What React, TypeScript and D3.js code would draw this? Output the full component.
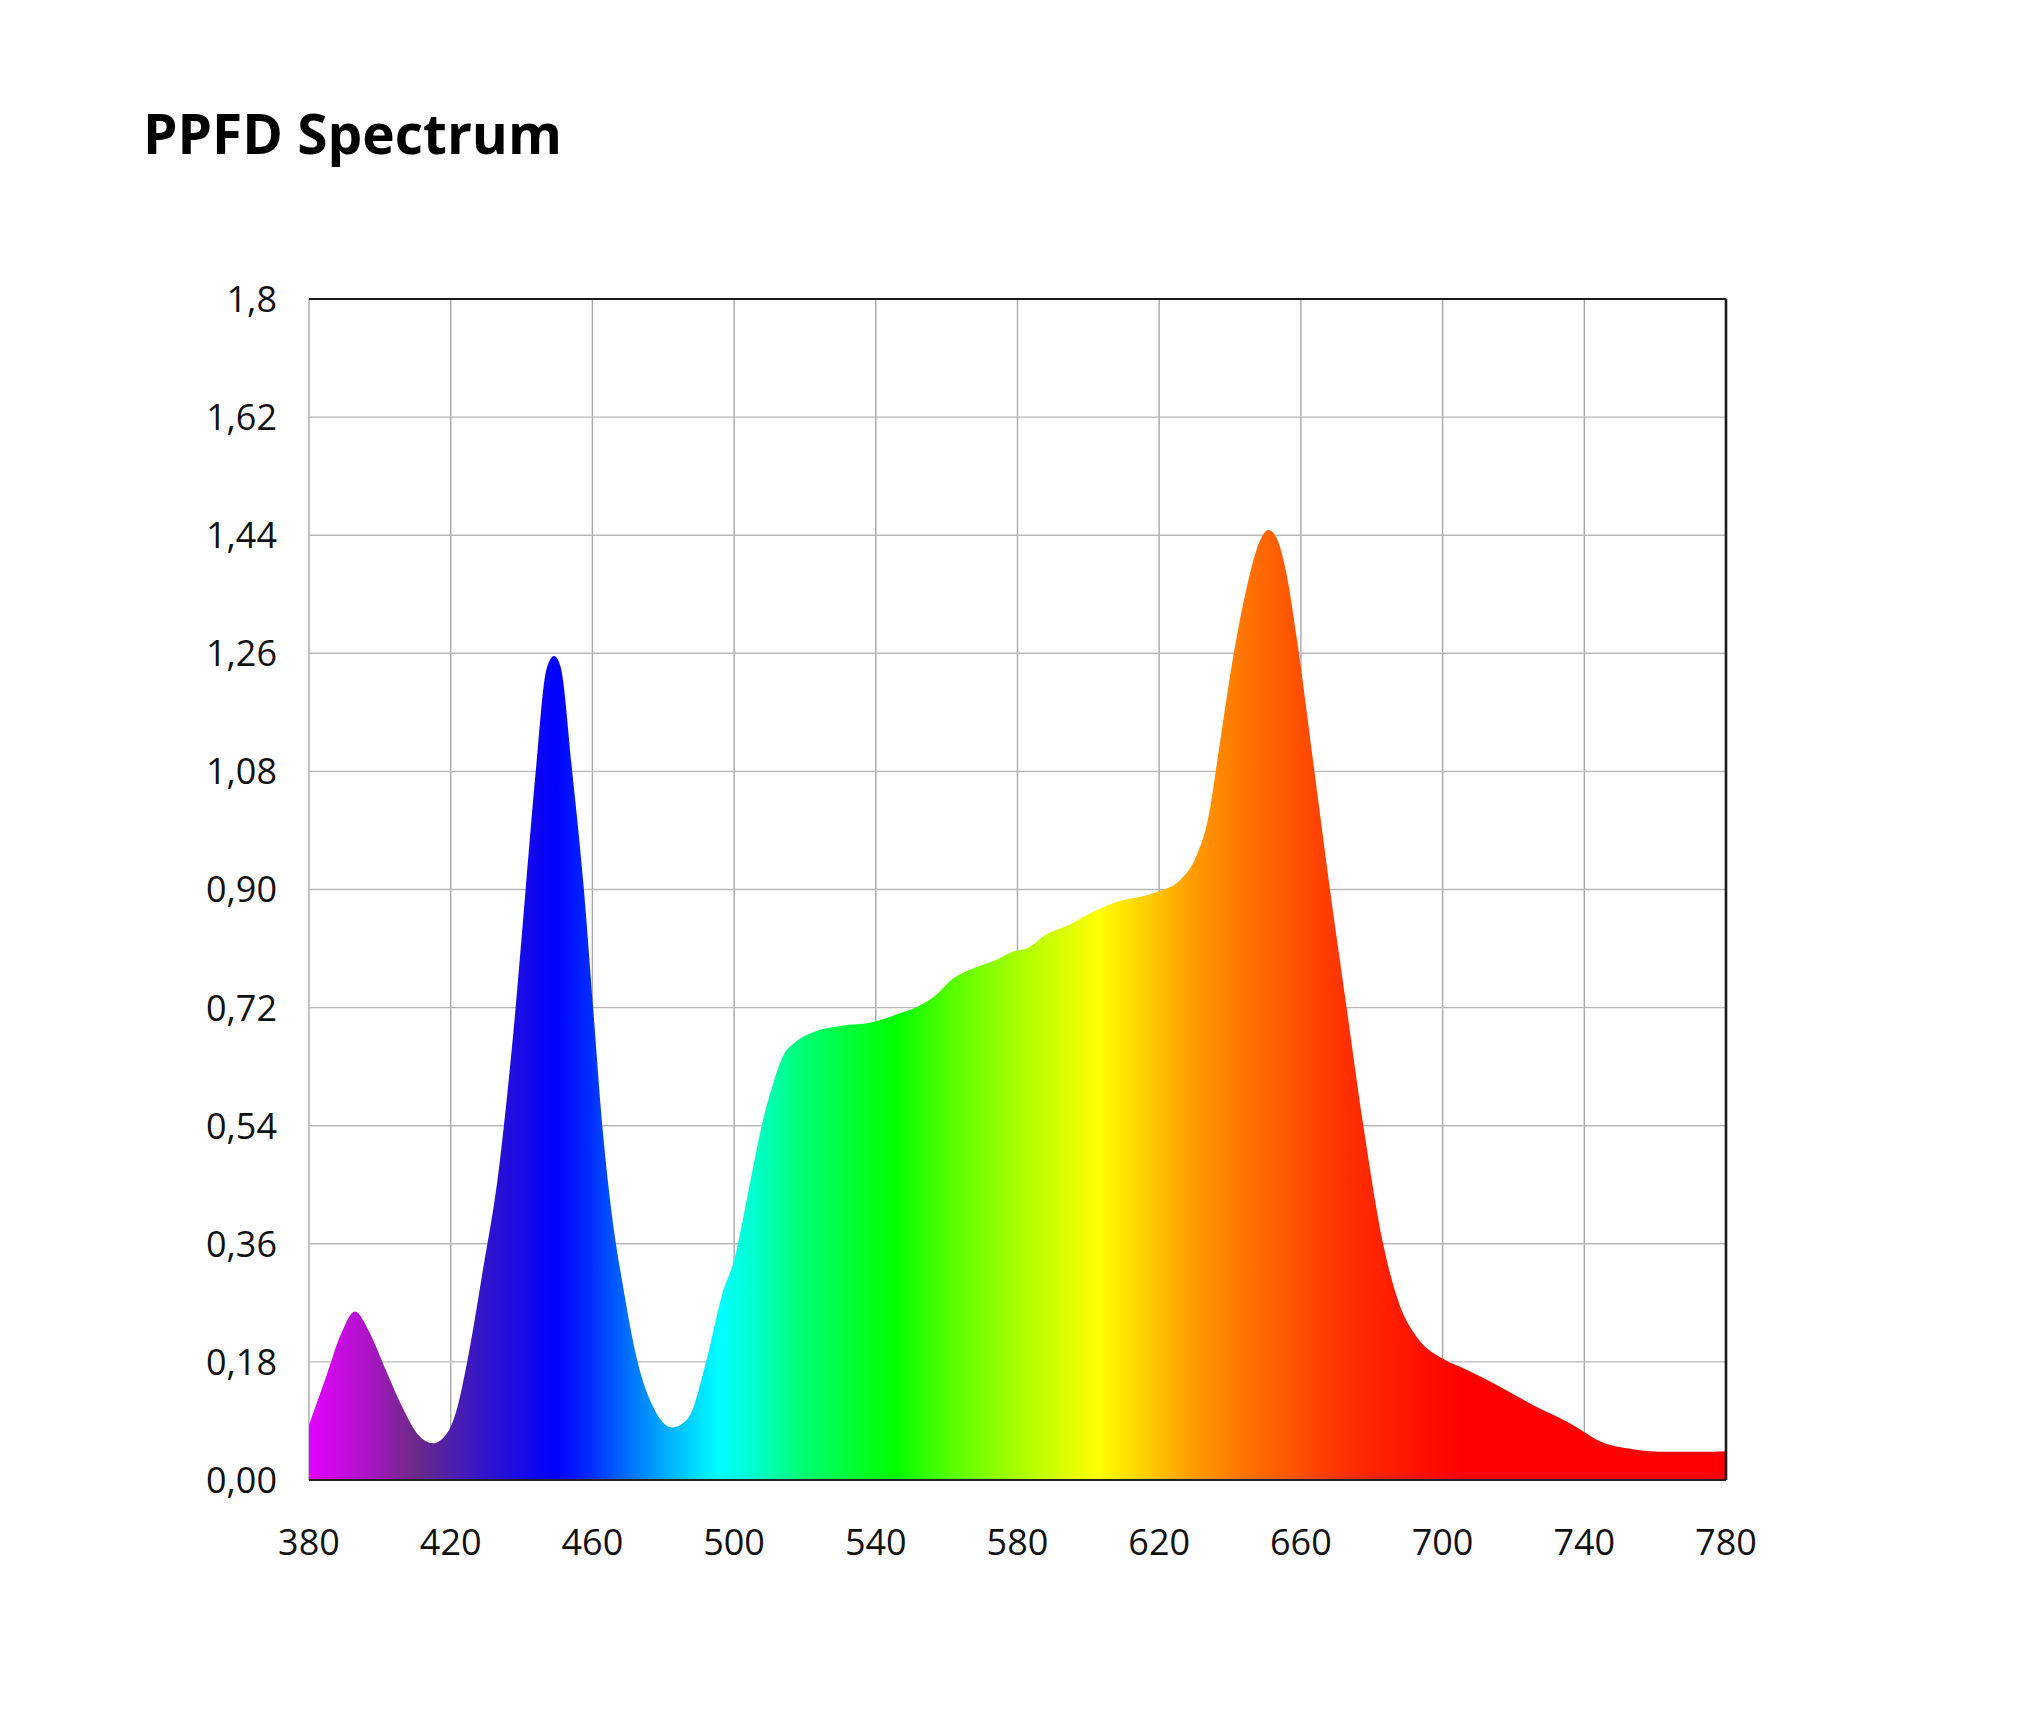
import React, { useMemo } from "react";
import * as d3 from "d3";

const title = "PPFD Spectrum";

const wavelengths = [
  380, 385, 389, 393, 397, 401.5, 406, 411, 415, 419.5, 422, 425, 429, 433.5, 436, 438, 441, 444, 447, 449.2,
  451, 454.3, 457.6, 460.2, 462.8, 465.6, 468.5, 473, 477, 482.5, 487, 492, 496.7, 500, 504.5, 507.8, 511, 514,
  517, 522.5, 530, 539.3, 546, 551.6, 556.3, 562, 567.6, 573.2, 579, 582.6, 588.3, 595, 599.6, 607, 619.3, 626,
  630.5, 633.8, 637.1, 640.9, 644.7, 648.4, 650.8, 653.1, 656, 658.8, 663.5, 668.2, 672.9, 677.6, 683.2, 688,
  692.7, 700, 706.8, 716.2, 725.6, 735, 739.7, 744.4, 753.8, 763.2, 772.6, 780,
];

const ppfd = [
  0.084, 0.16, 0.222, 0.257, 0.226, 0.17, 0.115, 0.068, 0.056, 0.076, 0.113, 0.19, 0.317, 0.47, 0.59, 0.7, 0.89,
  1.08, 1.235, 1.256, 1.24, 1.08, 0.9, 0.72, 0.54, 0.4, 0.3, 0.175, 0.113, 0.08, 0.094, 0.178, 0.284, 0.335, 0.453,
  0.54, 0.604, 0.648, 0.666, 0.683, 0.692, 0.698, 0.71, 0.721, 0.736, 0.765, 0.78, 0.791, 0.806, 0.81, 0.832,
  0.847, 0.861, 0.879, 0.896, 0.915, 0.951, 1.008, 1.122, 1.255, 1.36, 1.431, 1.448, 1.436, 1.379, 1.284, 1.093,
  0.9, 0.72, 0.541, 0.36, 0.265, 0.218, 0.185, 0.168, 0.142, 0.114, 0.089, 0.074, 0.059, 0.047, 0.043, 0.043,
  0.044,
];

const xTicks = [380, 420, 460, 500, 540, 580, 620, 660, 700, 740, 780];
const yTicks = [0, 0.18, 0.36, 0.54, 0.72, 0.9, 1.08, 1.26, 1.44, 1.62, 1.8];
const yTickLabels = ["0,00", "0,18", "0,36", "0,54", "0,72", "0,90", "1,08", "1,26", "1,44", "1,62", "1,8"];

const gradientNm = [380, 395, 410, 430, 450, 460, 470, 480, 490, 496, 505, 520, 545, 560, 580, 603, 620, 630, 648, 673, 705, 780];
const gradientColors = [
  "#e400ff", "#b312cc", "#6b2a88", "#3114cc", "#0000ff", "#0030ff", "#0070ff", "#00a8ff", "#00e0ff", "#00ffff",
  "#00ffd0", "#00ff70", "#00ff00", "#50ff00", "#a8ff00", "#ffff00", "#ffc000", "#ff9a00", "#ff6a00", "#ff3000",
  "#ff0000", "#ff0000",
];

const W = 2033;
const H = 1725;
const margin = { left: 309, right: 1726, top: 299, bottom: 1480 };
const FONT = "'Open Sans', 'Noto Sans', sans-serif";

export default function App() {
  const x = useMemo(() => d3.scaleLinear().domain([380, 780]).range([margin.left, margin.right]), []);
  const y = useMemo(() => d3.scaleLinear().domain([0, 1.8]).range([margin.bottom, margin.top]), []);

  const data = wavelengths.map((w, i) => [w, ppfd[i]] as [number, number]);
  const area = d3
    .area<[number, number]>()
    .x((d) => x(d[0]))
    .y0(y(0))
    .y1((d) => y(d[1]))
    .curve(d3.curveMonotoneX);

  const gridColor = "#a8a8a8";

  return (
    <svg
      width={W}
      height={H}
      style={{ position: "absolute", left: 0, top: 0, display: "block", background: "#fff" }}
    >
      <defs>
        <linearGradient id="spec" gradientUnits="userSpaceOnUse" x1={x(380)} x2={x(780)} y1={0} y2={0}>
          {gradientNm.map((nm, i) => (
            <stop key={i} offset={(nm - 380) / 400} stopColor={gradientColors[i]} />
          ))}
        </linearGradient>
      </defs>
      <rect x={0} y={0} width={W} height={H} fill="#fff" />
      <text
        x={143}
        y={154}
        fontFamily={FONT}
        fontWeight={700}
        fontSize={56}
        fill="#000"
        textLength={419}
        lengthAdjust="spacingAndGlyphs"
      >
        {title}
      </text>

      {/* grid */}
      {xTicks.map((t) => (
        <line key={"vx" + t} x1={x(t)} x2={x(t)} y1={y(1.8)} y2={y(0)} stroke={gridColor} strokeWidth={1.4} />
      ))}
      {yTicks.map((t) => (
        <line key={"hy" + t} x1={x(380)} x2={x(780)} y1={y(t)} y2={y(t)} stroke="#b8b8b8" strokeWidth={1.4} />
      ))}

      <path d={area(data) || ""} fill="url(#spec)" />

      {/* frame */}
      <line x1={x(380)} x2={x(780)} y1={y(1.8)} y2={y(1.8)} stroke="#1a1a1a" strokeWidth={2.2} />
      <line x1={x(780)} x2={x(780)} y1={y(1.8)} y2={y(0)} stroke="#1a1a1a" strokeWidth={2.6} />
      <line x1={x(380)} x2={x(780)} y1={y(0)} y2={y(0)} stroke="#222" strokeWidth={2.2} />

      {/* y labels */}
      {yTicks.map((t, i) => (
        <text
          key={"yl" + t}
          x={277}
          y={y(t)}
          dy="0.36em"
          textAnchor="end"
          fontFamily={FONT}
          fontSize={36}
          fill="#111"
        >
          {yTickLabels[i]}
        </text>
      ))}
      {/* x labels */}
      {xTicks.map((t) => (
        <text
          key={"xl" + t}
          x={x(t)}
          y={1555}
          textAnchor="middle"
          fontFamily={FONT}
          fontSize={36}
          fill="#111"
        >
          {t}
        </text>
      ))}
    </svg>
  );
}
